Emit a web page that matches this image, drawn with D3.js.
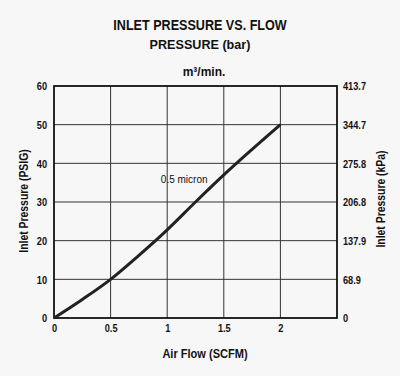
<!DOCTYPE html>
<html>
<head>
<meta charset="utf-8">
<script src="https://cdn.jsdelivr.net/npm/d3@7"></script>
<style>
  body { margin: 0; background: #f7f7f7; }
  text { font-family: "Liberation Sans", Arial, sans-serif; fill: #111; }
</style>
</head>
<body>
<div id="canvas"></div>
<script>
// DATA
const flowScfm = [0, 0.25, 0.5, 0.75, 1, 1.25, 1.5, 1.75, 2];
const pressurePsig = [0, 4.8, 10, 16.2, 22.8, 30, 37, 43.6, 50];
const xTicks = [0, 0.5, 1, 1.5, 2];
const psigTicks = [0, 10, 20, 30, 40, 50, 60];
const kpaTicks = [0, 68.9, 137.9, 206.8, 275.8, 344.7, 413.7];
const curveLabel = { text: "0.5 micron", x: 1.15, y: 35 };

// DIMENSIONS
const width = 400;
const height = 376;
const margin = { top: 86, right: 63, bottom: 58, left: 54 };
const plot_width = width - margin.left - margin.right;
const plot_height = height - margin.top - margin.bottom;

// CANVAS AND PLOT
const canvas = d3.select("#canvas")
  .append("svg")
  .attr("width", width)
  .attr("height", height)
  .style("background", "#f7f7f7");

const plot = canvas.append("g")
  .attr("transform", `translate(${margin.left},${margin.top})`);

// SCALES
const x = d3.scaleLinear().domain([0, 2.5]).range([0, plot_width]);
const y = d3.scaleLinear().domain([0, 60]).range([plot_height, 0]);
const yKpa = d3.scaleLinear().domain([0, 413.7]).range([plot_height, 0]);

// GRID
plot.append("g")
  .selectAll("line")
  .data(d3.range(0.5, 2.5, 0.5))
  .join("line")
  .attr("x1", d => x(d)).attr("x2", d => x(d))
  .attr("y1", 0).attr("y2", plot_height)
  .attr("stroke", "#333").attr("stroke-width", 1);

plot.append("g")
  .selectAll("line")
  .data(psigTicks.slice(1, -1))
  .join("line")
  .attr("x1", 0).attr("x2", plot_width)
  .attr("y1", d => y(d)).attr("y2", d => y(d))
  .attr("stroke", "#333").attr("stroke-width", 1);

// AXES (condensed look: squeeze labels horizontally)
const sq = 0.8;
const tickFont = g => g.selectAll("text")
  .style("font-size", "11.5px").style("font-weight", "bold")
  .attr("fill", "#111")
  .attr("transform", `scale(${sq},1)`);

plot.append("g")
  .attr("transform", `translate(0,${plot_height})`)
  .call(d3.axisBottom(x).tickValues(xTicks).tickFormat(d3.format("")).tickSize(0).tickPadding(6))
  .call(g => g.select(".domain").remove())
  .call(tickFont);

plot.append("g")
  .call(d3.axisLeft(y).tickValues(psigTicks).tickSize(0).tickPadding(7 / sq))
  .call(g => g.select(".domain").remove())
  .call(tickFont);

plot.append("g")
  .attr("transform", `translate(${plot_width},0)`)
  .call(d3.axisRight(yKpa).tickValues(kpaTicks).tickFormat(d => d).tickSize(0).tickPadding(6 / sq))
  .call(g => g.select(".domain").remove())
  .call(tickFont);

// FRAME
plot.append("rect")
  .attr("width", plot_width).attr("height", plot_height)
  .attr("fill", "none").attr("stroke", "#111").attr("stroke-width", 1.8);

// CURVE
const line = d3.line()
  .x((d, i) => x(flowScfm[i]))
  .y(d => y(d))
  .curve(d3.curveMonotoneX);

plot.append("path")
  .datum(pressurePsig)
  .attr("d", line)
  .attr("fill", "none")
  .attr("stroke", "#222")
  .attr("stroke-width", 3);

plot.append("text")
  .attr("x", x(curveLabel.x)).attr("y", y(curveLabel.y))
  .attr("text-anchor", "middle")
  .style("font-size", "10px")
  .text(curveLabel.text);

// TEXT HELPER
function label(str, tx, ty, size, sx, rot) {
  canvas.append("text")
    .attr("transform", `translate(${tx},${ty}) rotate(${rot || 0}) scale(${sx},1)`)
    .attr("text-anchor", "middle")
    .style("font-size", size + "px").style("font-weight", "bold")
    .text(str);
}

// HEADLINES
label("INLET PRESSURE VS. FLOW", 200, 30, 14, 0.9);
label("PRESSURE (bar)", 200, 49, 13, 0.97);
label("m³/min.", 204, 76, 12, 1);

// AXIS TITLES
label("Air Flow (SCFM)", 205, 358, 13, 0.85);
label("Inlet Pressure (PSIG)", 28, 201, 13, 0.8, -90);
label("Inlet Pressure (kPa)", 385, 199, 13, 0.8, -90);
</script>
</body>
</html>
